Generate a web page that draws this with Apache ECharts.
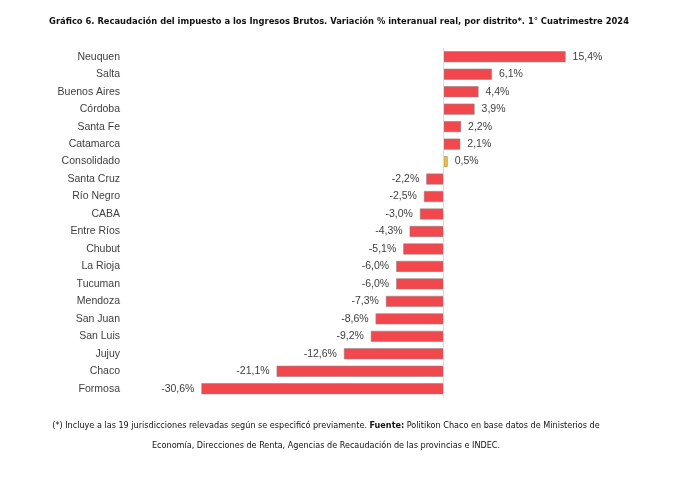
<!DOCTYPE html>
<html><head><meta charset="utf-8">
<script src="https://cdn.jsdelivr.net/npm/echarts@6/dist/echarts.min.js"></script>
<style>html,body{margin:0;padding:0;background:#fff}#c{width:678px;height:481px}</style>
</head><body><div id="c"></div>
<script>
const categories = ["Neuquen","Salta","Buenos Aires","Córdoba","Santa Fe","Catamarca","Consolidado","Santa Cruz","Río Negro","CABA","Entre Ríos","Chubut","La Rioja","Tucuman","Mendoza","San Juan","San Luis","Jujuy","Chaco","Formosa"];
const values = [15.4,6.1,4.4,3.9,2.2,2.1,0.5,-2.2,-2.5,-3.0,-4.3,-5.1,-6.0,-6.0,-7.3,-8.6,-9.2,-12.6,-21.1,-30.6];
const highlight = "Consolidado";
const titleText = "Gráfico 6. Recaudación del impuesto a los Ingresos Brutos. Variación % interanual real, por distrito*. 1° Cuatrimestre 2024";
const noteLine1 = "(*) Incluye a las 19 jurisdicciones relevadas según se especificó previamente. {b|Fuente:} Politikon Chaco en base datos de Ministerios de";
const noteLine2 = "Economía, Direcciones de Renta, Agencias de Recaudación de las provincias e INDEC.";

const condensed = "'DejaVu Sans Condensed', 'Liberation Sans', sans-serif";
const chart = echarts.init(document.getElementById('c'));
const data = values.map((v, i) => ({
  value: v,
  itemStyle: { color: categories[i] === highlight ? '#F2C037' : '#F2474D', borderColor: '#8a8a8a', borderWidth: 0.6 },
  label: { position: v >= 0 ? 'right' : 'left' }
}));
const noteStyle = (t, y) => ({
  text: t, x: 326, y: y, align: 'center', verticalAlign: 'middle',
  fontFamily: condensed, fontSize: 9, fill: '#111',
  rich: { b: { fontFamily: condensed, fontWeight: 'bold', fontSize: 9, fill: '#111' } }
});
chart.setOption({
  animation: false,
  title: {
    text: titleText,
    left: 'center', top: 12,
    textStyle: { fontFamily: condensed, fontWeight: 'bold', fontSize: 9.3, color: '#111' }
  },
  grid: { left: 127, width: 475, top: 48, height: 349.5, containLabel: false },
  xAxis: { type: 'value', min: -40, max: 20, show: false },
  yAxis: {
    type: 'category', data: categories, inverse: true,
    axisLine: { show: false }, axisTick: { show: false },
    axisLabel: { margin: 7, color: '#404040', fontFamily: 'Liberation Sans', fontSize: 10.5 }
  },
  series: [{
    type: 'bar', data: data, barWidth: 11,
    label: { show: true, color: '#404040', fontFamily: 'Liberation Sans', fontSize: 10.5, distance: 7,
      formatter: p => p.value.toFixed(1).replace('.', ',') + '%' },
    markLine: { silent: true, symbol: 'none', label: { show: false },
      lineStyle: { color: '#d8dbe6', width: 1, type: 'solid' },
      data: [{ xAxis: 0 }] }
  }],
  graphic: [
    { type: 'text', style: noteStyle(noteLine1, 426) },
    { type: 'text', style: noteStyle(noteLine2, 446) }
  ]
});
</script></body></html>
